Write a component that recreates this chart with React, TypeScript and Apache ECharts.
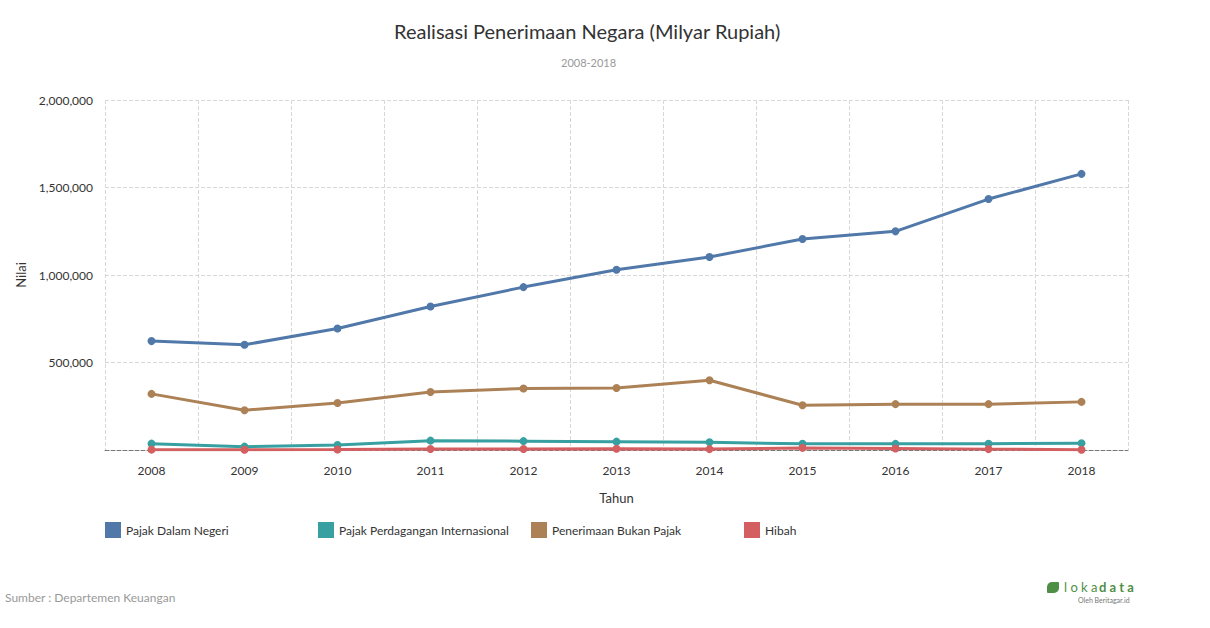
import React, { useEffect, useRef } from "react";
import * as echarts from "echarts";

const years = ["2008", "2009", "2010", "2011", "2012", "2013", "2014", "2015", "2016", "2017", "2018"];
const pajakDalamNegeri = [622359, 601252, 694392, 819752, 930862, 1029850, 1103218, 1205478, 1249499, 1434000, 1578000];
const pajakPerdagangan = [36341, 19160, 28877, 53477, 50591, 47787, 44000, 35500, 35200, 35500, 39000];
const bukanPajak = [320605, 227174, 268942, 331472, 351805, 354751, 398590, 255628, 261976, 262000, 275000];
const hibah = [2121, 1700, 3023, 5253, 5787, 6832, 5035, 11973, 8987, 5000, 1000];

const seriesNames = ["Pajak Dalam Negeri", "Pajak Perdagangan Internasional", "Penerimaan Bukan Pajak", "Hibah"];
const colors = ["#5078a9", "#38a0a1", "#ad8156", "#d45f60"];

export default function App() {
  const ref = useRef<HTMLDivElement>(null);
  useEffect(() => {
    if (!ref.current) return;
    const chart = echarts.init(ref.current, null, { renderer: "svg" });
    const font = "Lato, 'Noto Sans', sans-serif";
    const mk = (name: string, data: number[], color: string) => ({
      name,
      type: "line",
      data,
      symbol: "circle",
      symbolSize: 8,
      showSymbol: true,
      lineStyle: { width: 3, color },
      itemStyle: { color },
    });
    const legendX = [105, 318, 531, 744];
    chart.setOption({
      animation: false,
      color: colors,
      textStyle: { fontFamily: font },
      title: [
        {
          text: "Realisasi Penerimaan Negara (Milyar Rupiah)",
          left: 394,
          top: 21,
          padding: 0,
          textStyle: { fontFamily: font, fontSize: 20, fontWeight: "normal", color: "#333" },
        },
        {
          text: "2008-2018",
          left: 561,
          top: 57,
          padding: 0,
          textStyle: { fontFamily: font, fontSize: 11, fontWeight: "normal", color: "#999" },
        },
      ],
      legend: seriesNames.map((n, i) => ({
        data: [n],
        left: legendX[i],
        top: 522,
        padding: 0,
        icon: "rect",
        itemWidth: 16,
        itemHeight: 16,
        itemGap: 5,
        textStyle: { fontFamily: font, fontSize: 12, color: "#333" },
        selectedMode: false,
      })),
      grid: { left: 105, right: 82, top: 100, bottom: 178, containLabel: false },
      xAxis: {
        type: "category",
        data: years,
        boundaryGap: true,
        name: "Tahun",
        nameLocation: "middle",
        nameGap: 41,
        nameTextStyle: { fontFamily: font, fontSize: 13, color: "#333" },
        axisLine: { show: true, lineStyle: { color: "#777", type: "dashed", width: 1 } },
        axisTick: { show: false },
        axisLabel: { fontFamily: font, fontSize: 12, color: "#333", margin: 14 },
        splitLine: { show: true, lineStyle: { color: "#d8d8d8", type: "dashed" } },
      },
      yAxis: {
        type: "value",
        min: 0,
        max: 2000000,
        interval: 500000,
        name: "Nilai",
        nameLocation: "middle",
        nameGap: 71,
        nameTextStyle: { fontFamily: font, fontSize: 13, color: "#333" },
        axisLine: { show: false },
        axisTick: { show: false },
        axisLabel: {
          fontFamily: font,
          fontSize: 12,
          color: "#333",
          margin: 12,
          formatter: (v: number) => (v === 0 ? "" : v.toLocaleString("en-US")),
        },
        splitLine: { show: true, lineStyle: { color: "#d8d8d8", type: "dashed" } },
      },
      series: [
        mk(seriesNames[0], pajakDalamNegeri, colors[0]),
        mk(seriesNames[1], pajakPerdagangan, colors[1]),
        mk(seriesNames[2], bukanPajak, colors[2]),
        mk(seriesNames[3], hibah, colors[3]),
      ],
      graphic: [
        {
          type: "text",
          left: 5,
          top: 591,
          style: { text: "Sumber : Departemen Keuangan", fill: "#999", font: `12px ${font}` },
        },
        {
          type: "rect",
          shape: { x: 1047, y: 582, width: 12, height: 11, r: [5, 1, 5, 1] },
          style: { fill: "#4e8f45" },
        },
        {
          type: "text",
          x: 1064,
          y: 580,
          style: { text: "l o k a", fill: "#4e8f45", font: `13px ${font}` },
        },
        {
          type: "text",
          x: 1099,
          y: 580,
          style: { text: "d a t a", fill: "#4e8f45", font: `bold 13px ${font}` },
        },
        {
          type: "text",
          x: 1078,
          y: 596,
          style: { text: "Oleh Beritagar.id", fill: "#777", font: `7px ${font}` },
        },
      ],
    });
    return () => chart.dispose();
  }, []);
  return (
    <div
      ref={ref}
      style={{ position: "fixed", left: 0, top: 0, width: 1210, height: 628, background: "#fff" }}
    />
  );
}
